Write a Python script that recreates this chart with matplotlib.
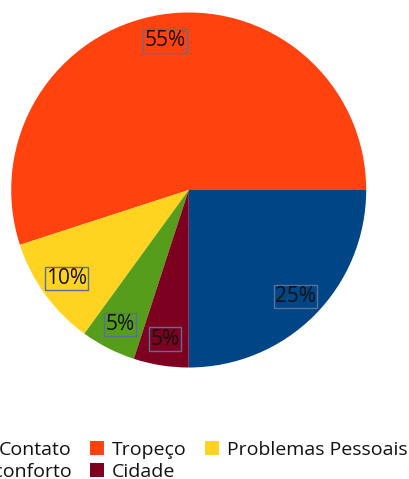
import matplotlib
matplotlib.use("Agg")
import matplotlib.pyplot as plt
from matplotlib.patches import Patch
from matplotlib.transforms import IdentityTransform

categories = ["Contato", "Tropeço", "Problemas Pessoais", "Desconforto", "Cidade"]
values = [25, 55, 10, 5, 5]
colors = ["#004586", "#ff420e", "#ffd320", "#579d1c", "#7e0021"]
legend_rows = [["Contato", "Tropeço", "Problemas Pessoais"], ["Desconforto", "Cidade"]]

plt.rcParams['font.family'] = ['Open Sans', 'DejaVu Sans']

W, H = 409, 479
fig = plt.figure(figsize=(W / 100, H / 100), dpi=100)
cx, cy, R = 188.7, 190.0, 177.5
ax = fig.add_axes([(cx - R) / W, (H - cy - R) / H, 2 * R / W, 2 * R / H])
ax.set_xlim(-1, 1)
ax.set_ylim(-1, 1)
ax.axis('off')

wedges, texts, autotexts = ax.pie(
    values, colors=colors, startangle=-90, counterclock=True, radius=1,
    autopct=lambda p: f"{p:.0f}%", pctdistance=0.85,
    wedgeprops=dict(linewidth=0),
    textprops=dict(fontsize=15, color="#111111"))
for t in autotexts:
    t.set_bbox(dict(boxstyle="square,pad=0.06", facecolor="none",
                    edgecolor="#5a7098", linewidth=1.0))
ax.set_xlim(-1, 1)
ax.set_ylim(-1, 1)

fs = 14
px = fs * 100 / 72.0
color_map = dict(zip(categories, colors))

legends = []
targets = [(90, H - 448), (90, H - 470)]
for row, (tx, ty) in zip(legend_rows, targets):
    handles = [Patch(facecolor=color_map[c], edgecolor="none") for c in row]
    leg = fig.legend(handles, row, loc="lower left", ncol=len(row),
                     bbox_to_anchor=(0, 0), bbox_transform=IdentityTransform(),
                     frameon=False, fontsize=fs, handlelength=14 / px,
                     handleheight=14 / px, handletextpad=8 / px,
                     columnspacing=18 / px, borderpad=0, borderaxespad=0)
    for t in leg.get_texts():
        t.set_color("#111111")
    legends.append((leg, tx, ty))

fig.canvas.draw()
r = fig.canvas.get_renderer()
for leg, tx, ty in legends:
    hb = leg.legend_handles[1].get_window_extent(r)
    dx = tx - hb.x0
    dy = ty - (hb.y0 + hb.y1) / 2
    leg.set_bbox_to_anchor((dx, dy), transform=IdentityTransform())

fig.savefig("out.png", dpi=100)
